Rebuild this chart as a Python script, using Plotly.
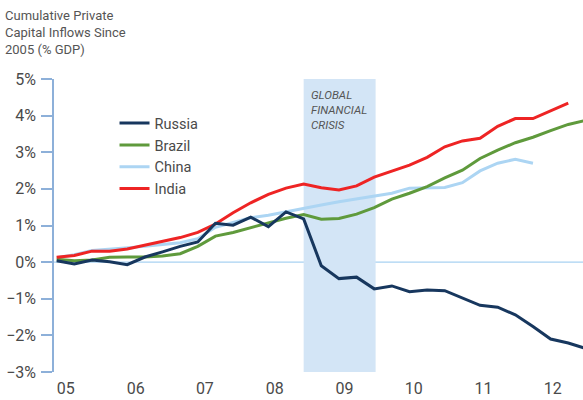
import plotly.graph_objects as go

# Quarterly observations, 2005Q1 onward
years = [2005, 2005, 2005, 2005, 2006, 2006, 2006, 2006, 2007, 2007, 2007, 2007,
         2008, 2008, 2008, 2008, 2009, 2009, 2009, 2009, 2010, 2010, 2010, 2010,
         2011, 2011, 2011, 2011, 2012, 2012, 2012]
quarters = [1, 2, 3, 4] * 7 + [1, 2, 3]

russia = [0.04, -0.05, 0.06, 0.01, -0.07, 0.14, 0.28, 0.43, 0.55, 1.06, 1.01, 1.23,
          0.97, 1.37, 1.18, -0.10, -0.45, -0.41, -0.73, -0.65, -0.81, -0.76, -0.78,
          -0.97, -1.18, -1.23, -1.44, -1.76, -2.10, -2.21, -2.36]
brazil = [0.08, 0.04, 0.06, 0.13, 0.14, 0.14, 0.17, 0.23, 0.43, 0.71, 0.81, 0.94,
          1.05, 1.20, 1.30, 1.17, 1.19, 1.31, 1.49, 1.72, 1.88, 2.06, 2.30, 2.51,
          2.83, 3.06, 3.26, 3.41, 3.59, 3.76, 3.87]
china = [0.12, 0.20, 0.32, 0.35, 0.38, 0.43, 0.48, 0.53, 0.64, 0.95, 1.08, 1.21,
         1.28, 1.38, 1.46, 1.56, 1.65, 1.72, 1.79, 1.88, 2.02, 2.04, 2.04, 2.17,
         2.49, 2.70, 2.81, 2.70]
india = [0.13, 0.18, 0.30, 0.30, 0.36, 0.47, 0.56, 0.67, 0.81, 1.04, 1.35, 1.62,
         1.85, 2.02, 2.13, 2.03, 1.97, 2.08, 2.32, 2.49, 2.65, 2.86, 3.15, 3.31,
         3.38, 3.71, 3.92, 3.92, 4.13, 4.34]

tick_pos = [2005.13, 2006.12, 2007.10, 2008.09, 2009.08, 2010.06, 2011.05, 2012.03]
tick_text = ["05", "06", "07", "08", "09", "10", "11", "12"]
y_ticks = [5, 4, 3, 2, 1, 0, -1, -2, -3]
y_text = ["5%", "4%", "3%", "2%", "1%", "0%", "\u22121%", "\u22122%", "\u22123%"]
crisis_start, crisis_end = 2008.5, 2009.52

t = [y + (q - 1) / 4 for y, q in zip(years, quarters)]

FONT = "Roboto, Liberation Sans, Arial, sans-serif"
TXT = "#4a4a4a"

fig = go.Figure()
series = [
    ("China", china, "#acd5f3", 3),
    ("Brazil", brazil, "#5f9a3c", 2),
    ("India", india, "#ee2424", 4),
    ("Russia", russia, "#17375e", 1),
]
for name, vals, col, rank in series:
    fig.add_trace(go.Scatter(x=t[:len(vals)], y=vals, mode="lines", name=name,
                             line=dict(color=col, width=3), legendrank=rank,
                             hoverinfo="skip"))

fig.add_shape(type="rect", xref="x", yref="y", x0=crisis_start, x1=crisis_end,
              y0=-3, y1=5.05, fillcolor="#d3e5f6", line_width=0, layer="below")
fig.add_shape(type="line", xref="paper", yref="y", x0=0, x1=1, y0=0, y1=0,
              line=dict(color="#a8d2f2", width=1.2), layer="below")

fig.add_annotation(x=crisis_start + 0.08, y=4.82, xref="x", yref="y",
                   text="<i>GLOBAL<br>FINANCIAL<br>CRISIS</i>", showarrow=False,
                   xanchor="left", yanchor="top", align="left",
                   font=dict(family=FONT, size=11.5, color="#555555"))
fig.add_annotation(x=0, y=1, xref="paper", yref="paper", xanchor="left", yanchor="top",
                   xshift=-51, yshift=73,
                   text="Cumulative Private<br>Capital Inflows Since<br>2005 (% GDP)",
                   showarrow=False, align="left",
                   font=dict(family=FONT, size=13, color="#555555"))

fig.update_layout(
    width=583, height=400,
    margin=dict(l=54, r=0, t=79, b=28),
    paper_bgcolor="white", plot_bgcolor="white",
    font=dict(family=FONT, color=TXT),
    showlegend=True,
    legend=dict(x=0.1144, y=0.904, xanchor="left", yanchor="top",
                bgcolor="rgba(0,0,0,0)", font=dict(family=FONT, size=14.5, color=TXT),
                itemwidth=30, tracegroupgap=0),
    xaxis=dict(range=[2004.962, 2012.459], showgrid=False, zeroline=False,
               showline=False, ticks="", tickvals=tick_pos, automargin=False,
               ticktext=tick_text, ticklabelstandoff=5,
               tickfont=dict(family=FONT, size=16, color=TXT)),
    yaxis=dict(range=[-3, 5], showgrid=False, zeroline=False, showline=True,
               linecolor="#8db0d9", linewidth=1.5, ticks="outside", ticklen=11,
               tickcolor="#8db0d9", tickwidth=1.5, tickvals=y_ticks, ticktext=y_text,
               automargin=False, ticklabelstandoff=2,
               tickfont=dict(family=FONT, size=16, color=TXT)),
)

fig.write_html("out.html", config={"displayModeBar": False},
               post_script="document.body.style.margin='0px';")
